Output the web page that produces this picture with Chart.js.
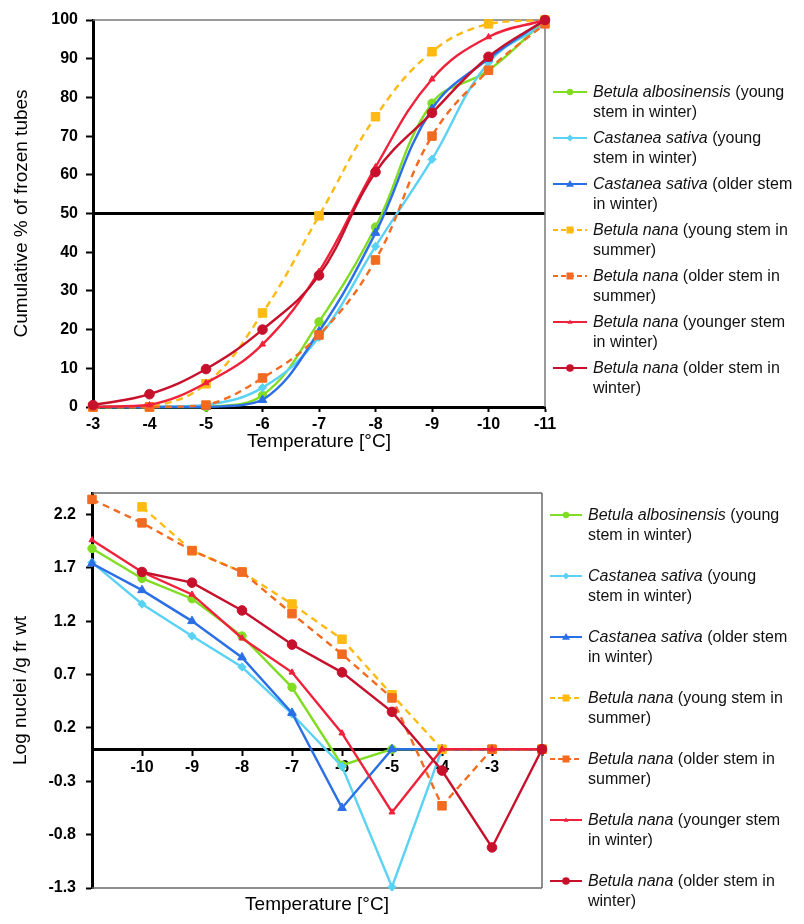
<!DOCTYPE html>
<html><head><meta charset="utf-8">
<script src="https://cdn.jsdelivr.net/npm/chart.js@4"></script>
<style>
body{margin:0;background:#fff;width:804px;height:924px;position:relative;overflow:hidden;font-family:'Liberation Sans',Arial,sans-serif;}
#c1{position:absolute;left:0;top:0;}
#c2{position:absolute;left:0;top:460px;}
.legend{position:absolute;}
.item{position:relative;height:40px;line-height:20px;font-size:16px;color:#111;}
.item svg{position:absolute;left:0;top:4px;}
.item span{position:absolute;top:0;white-space:nowrap;}
</style></head>
<body>
<canvas id="c1" width="560" height="460"></canvas>
<canvas id="c2" width="560" height="464"></canvas>
<div class="legend" id="leg1" style="left:553px;top:82px"></div>
<div class="legend" id="leg2" style="left:550px;top:505px"></div>
<script>
// ---------- categories / tick labels ----------
const xLabelsTop = ['-3','-4','-5','-6','-7','-8','-9','-10','-11'];
const xCatsBottom = ['-11','-10','-9','-8','-7','-6','-5','-4','-3','-2'];
const xTickLabelsBottom = ['','-10','-9','-8','-7','-6','-5','-4','-3',''];
const yTicksBottom = [-1.3,-0.8,-0.3,0.2,0.7,1.2,1.7,2.2];

// ---------- series names ----------
const speciesNames = ['Betula albosinensis','Castanea sativa','Castanea sativa','Betula nana','Betula nana','Betula nana','Betula nana'];
const noteLine1 = [' (young',' (young',' (older stem',' (young stem in',' (older stem in',' (younger stem',' (older stem in'];
const noteLine2 = ['stem in winter)','stem in winter)','in winter)','summer)','summer)','in winter)','winter)'];

// ---------- top chart: cumulative % of frozen tubes ----------
const albosTop        = [0, 0, 0,   3,   22,   46.5, 78.5, 87,   100];
const castYoungTop    = [0, 0, 0.5, 5,   18,   41.5, 64,   89,   99];
const castOlderTop    = [0, 0, 0,   1.8, 19.5, 45,   77,   90,   100];
const nanaYoungSumTop = [0, 0, 6,   24.3,49.4, 75,   91.8, 99,   100];
const nanaOlderSumTop = [0, 0, 0.5, 7.5, 18.6, 38,   70,   87,   99];
const nanaYoungerWinTop = [0, 0.5, 6.2, 16.2, 35, 62, 84.7, 95.6, 100];
const nanaOlderWinTop = [0.5, 3.3, 9.8, 20, 34, 60.7, 76, 90.5, 100];

// ---------- bottom chart: log nuclei / g fr wt ----------
const albosBot        = [1.88, 1.60, 1.41, 1.06, 0.58, -0.15, 0, 0, 0, 0];
const castYoungBot    = [1.75, 1.36, 1.06, 0.77, 0.33, -0.16, -1.29, 0, 0, 0];
const castOlderBot    = [1.74, 1.49, 1.20, 0.86, 0.34, -0.55, 0, 0, 0, 0];
const nanaYoungSumBot = [null, 2.27, 1.86, 1.66, 1.36, 1.03, 0.51, 0, 0, 0];
const nanaOlderSumBot = [2.34, 2.12, 1.86, 1.66, 1.27, 0.89, 0.48, -0.53, 0, 0];
const nanaYoungerWinBot = [1.96, 1.66, 1.45, 1.04, 0.72, 0.15, -0.59, 0, 0, 0];
const nanaOlderWinBot = [null, 1.66, 1.56, 1.30, 0.98, 0.72, 0.35, -0.2, -0.92, 0];

// ---------- styles ----------
const styles = [
  {color:'#80DD22', point:'circle',   r:4.2, dash:[]},
  {color:'#5AD2F4', point:'rectRot',  r:4.2, dash:[]},
  {color:'#2B6FE6', point:'triangle', r:5,   dash:[]},
  {color:'#FDBA12', point:'rect',     r:6,   dash:[7,5]},
  {color:'#F26B21', point:'rect',     r:6,   dash:[7,5]},
  {color:'#F0213A', point:'triangle', r:3.5, dash:[]},
  {color:'#C7102B', point:'circle',   r:4.8, dash:[]}
];
const FONT = "'Liberation Sans', Arial, sans-serif";
Chart.defaults.font.family = FONT;
Chart.defaults.color = '#000';

function makeDatasets(arrs, tension){
  return arrs.map((d,i)=>({
    label: speciesNames[i] + noteLine1[i] + ' ' + noteLine2[i],
    data: d,
    borderColor: styles[i].color,
    backgroundColor: styles[i].color,
    pointBackgroundColor: styles[i].color,
    pointBorderColor: styles[i].color,
    pointStyle: styles[i].point,
    pointRadius: styles[i].r,
    pointBorderWidth: 1,
    borderWidth: 2.4,
    borderDash: styles[i].dash,
    tension: tension,
    clip: false,
    spanGaps: false,
    order: 10 - i
  }));
}

const framePlugin = {
  id: 'frame',
  beforeDatasetsDraw(chart, args, opts){
    const {left, top, right, bottom} = chart.chartArea;
    const ctx = chart.ctx;
    ctx.save();
    ctx.strokeStyle = opts.color || '#808080';
    ctx.lineWidth = 1.5;
    ctx.beginPath();
    if ((opts.sides||[]).includes('top')) { ctx.moveTo(left, top); ctx.lineTo(right, top); }
    if ((opts.sides||[]).includes('right')) { ctx.moveTo(right, top); ctx.lineTo(right, bottom); }
    if ((opts.sides||[]).includes('bottom')) { ctx.moveTo(left, bottom); ctx.lineTo(right, bottom); }
    ctx.stroke();
    ctx.restore();
  }
};

// ---------- chart 1 ----------
new Chart(document.getElementById('c1'), {
  type: 'line',
  data: { labels: xLabelsTop, datasets: makeDatasets([albosTop, castYoungTop, castOlderTop, nanaYoungSumTop, nanaOlderSumTop, nanaYoungerWinTop, nanaOlderWinTop], 0.4) },
  options: {
    responsive: false, animation: false, devicePixelRatio: 1,
    layout: { padding: { top: 20, right: 15, left: 0, bottom: 0 } },
    plugins: { legend: { display: false }, tooltip: { enabled: false }, frame: { sides: ['top','right'], color:'#7a7a7a' } },
    scales: {
      x: {
        type: 'category', offset: false,
        grid: { drawOnChartArea: false, tickLength: 5, tickColor: '#000', tickWidth: 2 },
        border: { color: '#000', width: 3 },
        ticks: { color: '#000', font: { size: 16, weight: 'bold' }, padding: 3, maxRotation: 0, autoSkip: false },
        title: { display: true, text: 'Temperature [°C]', color: '#000', font: { size: 19 }, padding: { top: 0, bottom: 7 } },
        afterFit: s => { s.height = 53; }
      },
      y: {
        min: 0, max: 100,
        ticks: { stepSize: 10, color: '#000', font: { size: 16, weight: 'bold' }, padding: 8 },
        grid: {
          color: c => (c.tick && c.tick.value === 50) ? '#000' : 'rgba(0,0,0,0)',
          lineWidth: c => (c.tick && c.tick.value === 50) ? 3 : 1,
          tickColor: '#000', tickLength: 7, tickWidth: 2
        },
        border: { color: '#000', width: 3 },
        title: { display: true, text: 'Cumulative % of frozen tubes', color: '#000', font: { size: 19 }, padding: { top: 10, bottom: 0 } },
        afterFit: s => { s.width = 93; }
      }
    }
  },
  plugins: [framePlugin]
});

// ---------- chart 2 ----------
new Chart(document.getElementById('c2'), {
  type: 'line',
  data: { labels: xCatsBottom, datasets: makeDatasets([albosBot, castYoungBot, castOlderBot, nanaYoungSumBot, nanaOlderSumBot, nanaYoungerWinBot, nanaOlderWinBot], 0) },
  options: {
    responsive: false, animation: false, devicePixelRatio: 1,
    layout: { padding: { top: 33, right: 18, left: 0, bottom: 0 } },
    plugins: { legend: { display: false }, tooltip: { enabled: false }, frame: { sides: ['top','right','bottom'], color:'#6a6a6a' } },
    scales: {
      x: {
        type: 'category', offset: false, position: { y: 0 },
        grid: { drawOnChartArea: false, tickLength: 5, tickColor: '#000', tickWidth: 2 },
        border: { color: '#000', width: 3 },
        ticks: { color: '#000', font: { size: 16, weight: 'bold' }, padding: 4, maxRotation: 0, autoSkip: false,
                 callback: (v, i) => xTickLabelsBottom[i] },
        afterFit: s => { s.height = 0; }
      },
      x2: {
        type: 'category', labels: xCatsBottom, position: 'bottom', display: true,
        grid: { display: false }, border: { display: false }, ticks: { display: false },
        title: { display: true, text: 'Temperature [°C]', color: '#000', font: { size: 19 }, padding: { top: 0, bottom: 8 } },
        afterFit: s => { s.height = 36; }
      },
      y: {
        min: -1.3, max: 2.4,
        afterBuildTicks: s => { s.ticks = yTicksBottom.map(v => ({ value: v })); },
        ticks: { color: '#000', font: { size: 16, weight: 'bold' }, padding: 10, callback: v => String(v) },
        grid: { drawOnChartArea: false, tickColor: '#000', tickLength: 6, tickWidth: 2 },
        border: { color: '#000', width: 3 },
        title: { display: true, text: 'Log nuclei /g fr wt', color: '#000', font: { size: 19 }, padding: { top: 9, bottom: 0 } },
        afterFit: s => { s.width = 92; }
      }
    }
  },
  plugins: [framePlugin]
});

// ---------- HTML legends ----------
function markerSVG(i, w){
  const s = styles[i], c = s.color, cx = w/2, cy = 6;
  let m = '';
  if (s.point === 'circle') m = `<circle cx="${cx}" cy="${cy}" r="${s.r-1}" fill="${c}"/>`;
  else if (s.point === 'rect') m = `<rect x="${cx-3.5}" y="${cy-3.5}" width="7" height="7" fill="${c}"/>`;
  else if (s.point === 'rectRot') m = `<polygon points="${cx},${cy-3.5} ${cx+3.5},${cy} ${cx},${cy+3.5} ${cx-3.5},${cy}" fill="${c}"/>`;
  else if (s.point === 'triangle') { const r = s.r-1; m = `<polygon points="${cx},${cy-r} ${cx+r},${cy+r*0.7} ${cx-r},${cy+r*0.7}" fill="${c}"/>`; }
  const dash = s.dash.length ? 'stroke-dasharray="5,3"' : '';
  return `<svg width="${w}" height="12"><line x1="0" y1="${cy}" x2="${w}" y2="${cy}" stroke="${c}" stroke-width="2" ${dash}/>${m}</svg>`;
}
function buildLegend(id, w, textLeft, gap){
  const el = document.getElementById(id);
  speciesNames.forEach((n,i)=>{
    const d = document.createElement('div');
    d.className = 'item';
    d.style.marginBottom = gap + 'px';
    d.innerHTML = markerSVG(i, w) + `<span style="left:${textLeft}px"><i>${n}</i>${noteLine1[i]}<br>${noteLine2[i]}</span>`;
    el.appendChild(d);
  });
}
buildLegend('leg1', 34, 40, 6);
buildLegend('leg2', 32, 38, 21);
</script>
</body></html>
